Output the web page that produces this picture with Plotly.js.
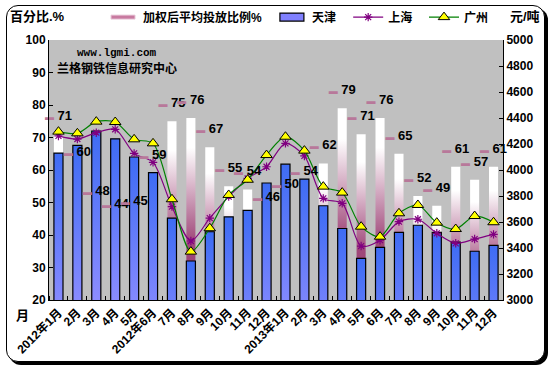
<!DOCTYPE html>
<html><head><meta charset="utf-8">
<script src="https://cdn.plot.ly/plotly-3.0.1.min.js"></script>
<style>
html,body{margin:0;padding:0;background:#fff;width:553px;height:370px;overflow:hidden}
#frame{position:absolute;left:6px;top:5px;width:537px;height:355px;border:1px solid #000;border-radius:12px;box-shadow:3px 3px 0 0 #000;background:#fff}
#chart{position:absolute;left:0;top:0;width:553px;height:370px}
</style></head><body>
<div id="frame"></div>
<div id="chart"></div>
<script>
const months = ['2012年1月','2月','3月','4月','5月','2012年6月','7月','8月','9月','10月','11月','12月',
                '2013年1月','2月','3月','4月','5月','6月','7月','8月','9月','10月','11月','12月'];
const weightedPct = [71, 60, 48, 44, 45, 59, 75, 76, 67, 55, 54, 46, 50, 54, 62, 79, 71, 76, 65, 52, 49, 61, 57, 61];
const tianjin   = [4130, 4190, 4300, 4240, 4100, 3980, 3630, 3300, 3525, 3640, 3690, 3900, 4045, 3930, 3725, 3550, 3320, 3405, 3520, 3575, 3520, 3445, 3375, 3420];
const shanghai  = [4262, 4238, 4287, 4313, 4128, 4059, 3718, 3454, 3630, 3795, 3935, 4025, 4205, 4108, 3782, 3744, 3415, 3460, 3603, 3621, 3513, 3436, 3469, 3505];
const guangzhou = [4295, 4282, 4372, 4369, 4236, 4205, 3775, 3372, 3552, 3808, 3925, 4115, 4256, 4149, 3872, 3826, 3564, 3487, 3667, 3731, 3595, 3546, 3646, 3598];
const leftTicks  = [20, 30, 40, 50, 60, 70, 80, 90, 100];
const rightTicks = [3000, 3200, 3400, 3600, 3800, 4000, 4200, 4400, 4600, 4800, 5000];
const seriesNames = ['加权后平均投放比例%', '天津', '上海', '广州'];

const idx = months.map((_, i) => i);
const FONT = 'Liberation Sans, "Noto Sans CJK SC", sans-serif';
const bold = (size) => ({family: FONT, size: size, weight: 'bold', color: '#000'});
const labelText = weightedPct.map(v => '<span style="color:#b8789a;font-size:9px">▬</span> ' + v);

const data = [
  {type: 'bar', x: idx, y: weightedPct, yaxis: 'y', name: seriesNames[0], legend: 'legend',
   marker: {color: '#c890ac', line: {width: 0}}, hoverinfo: 'skip'},
  {type: 'bar', x: idx, y: tianjin, yaxis: 'y2', name: seriesNames[1], legend: 'legend2',
   marker: {color: '#7080f0', line: {color: '#000', width: 1.2}}, hoverinfo: 'skip'},
  {type: 'scatter', mode: 'lines+markers', x: idx, y: shanghai, yaxis: 'y2', name: seriesNames[2], legend: 'legend3',
   line: {color: '#800080', width: 1.2, shape: 'spline', smoothing: 0.8},
   marker: {symbol: 'asterisk-open', size: 7, color: '#800080', line: {color: '#800080', width: 1.2}}, hoverinfo: 'skip'},
  {type: 'scatter', mode: 'lines+markers', x: idx, y: guangzhou, yaxis: 'y2', name: seriesNames[3], legend: 'legend4',
   line: {color: '#008000', width: 1.2, shape: 'spline', smoothing: 0.8},
   marker: {symbol: 'triangle-up', size: 10, color: '#ffff00', line: {color: '#000', width: 1}}, hoverinfo: 'skip'},
  {type: 'scatter', mode: 'markers+text', x: idx, y: weightedPct, yaxis: 'y3', showlegend: false,
   text: labelText, textposition: 'top center', textfont: bold(13),
   marker: {size: 16, opacity: 0}, hoverinfo: 'skip', cliponaxis: false}
];

const legendBase = (x) => ({x: x, y: 1.088, xanchor: 'left', yanchor: 'middle', orientation: 'h',
  bgcolor: 'rgba(0,0,0,0)', font: bold(12), borderwidth: 0});

const layout = {
  width: 553, height: 370,
  margin: {l: 49, r: 50, t: 40, b: 70, autoexpand: false},
  paper_bgcolor: 'rgba(0,0,0,0)',
  plot_bgcolor: '#c0c0c0',
  barmode: 'overlay', bargap: 0.52,
  font: bold(12),
  xaxis: {range: [-0.5, 23.5], tickmode: 'array', tickvals: idx, ticktext: months, tickangle: -45,
    ticks: '', showline: true, linecolor: '#000', linewidth: 1, showgrid: false, zeroline: false,
    tickfont: bold(12),
    minor: {tickmode: 'linear', tick0: -0.5, dtick: 1, ticks: 'inside', ticklen: 4, tickcolor: '#000', showgrid: false}},
  yaxis: {range: [20, 100], tickmode: 'array', tickvals: leftTicks, ticks: 'inside', ticklen: 4, tickcolor: '#000',
    showline: true, linecolor: '#000', linewidth: 1, showgrid: false, zeroline: false, tickfont: bold(12)},
  yaxis2: {range: [3000, 5000], overlaying: 'y', side: 'right', tickmode: 'array', tickvals: rightTicks,
    ticks: 'inside', ticklen: 4, tickcolor: '#000', showline: true, linecolor: '#000', linewidth: 1,
    showgrid: false, zeroline: false, tickfont: bold(12)},
  yaxis3: {overlaying: 'y', matches: 'y', visible: false},
  legend: legendBase(0.119),
  legend2: legendBase(0.491),
  legend3: legendBase(0.659),
  legend4: legendBase(0.826),
  annotations: [
    {text: '百分比.%', xref: 'paper', yref: 'paper', x: -0.09, y: 1.092, xanchor: 'left', yanchor: 'middle', showarrow: false, font: bold(13)},
    {text: '元/吨', xref: 'paper', yref: 'paper', x: 1.011, y: 1.092, xanchor: 'left', yanchor: 'middle', showarrow: false, font: bold(13)},
    {text: 'www.lgmi.com', xref: 'paper', yref: 'paper', x: 0.15, y: 0.95, xanchor: 'center', yanchor: 'middle', showarrow: false,
     font: {family: 'Liberation Mono, monospace', size: 11, weight: 'bold', color: '#000'}},
    {text: '兰格钢铁信息研究中心', xref: 'paper', yref: 'paper', x: 0.013, y: 0.892, xanchor: 'left', yanchor: 'middle', showarrow: false, font: bold(12)},
    {text: '月', xref: 'paper', yref: 'paper', x: -0.059, y: -0.058, xanchor: 'center', yanchor: 'middle', showarrow: false, font: bold(13)}
  ]
};

function setIf(p, d, fill, stroke) {
  if (p.getAttribute('d') !== d) p.setAttribute('d', d);
  if (fill && p.style.fill !== fill) p.style.fill = fill;
  if (stroke && p.style.stroke !== stroke) { p.style.stroke = stroke; p.style.strokeWidth = '1px'; }
}

function decorate(gd) {
  const ns = 'http://www.w3.org/2000/svg';
  const svg = gd.querySelector('.main-svg');
  if (!svg) return;
  let defs = svg.querySelector('defs');
  if (!defs) { defs = document.createElementNS(ns, 'defs'); svg.insertBefore(defs, svg.firstChild); }
  function grad(id, stops) {
    if (document.getElementById(id)) return;
    const g = document.createElementNS(ns, 'linearGradient');
    g.setAttribute('id', id);
    g.setAttribute('x1', '0'); g.setAttribute('y1', '0');
    g.setAttribute('x2', '0'); g.setAttribute('y2', '1');
    stops.forEach(([o, c]) => {
      const s = document.createElementNS(ns, 'stop');
      s.setAttribute('offset', o); s.setAttribute('stop-color', c); g.appendChild(s);
    });
    defs.appendChild(g);
  }
  grad('gW', [[0, '#ffffff'], [0.12, '#ffffff'], [0.5, '#a0487a'], [1, '#8c3466']]);
  grad('gB', [[0, '#3e6cf4'], [0.3, '#8c8cff'], [0.75, '#8a8cfa'], [1, '#4470f4']]);
  const bars = gd.querySelectorAll('.barlayer .trace.bars');
  if (bars[0]) bars[0].querySelectorAll('path').forEach(p => { if (p.style.fill.indexOf('gW') < 0) p.style.fill = 'url(#gW)'; });
  if (bars[1]) bars[1].querySelectorAll('path').forEach(p => { if (p.style.fill.indexOf('gB') < 0) p.style.fill = 'url(#gB)'; });
  gd.querySelectorAll('g.traces').forEach(tr => {
    const txt = tr.textContent || '';
    const isTj = txt.indexOf('天津') >= 0;
    const isW = txt.indexOf('加权') >= 0;
    if (!isTj && !isW) return;
    tr.querySelectorAll('path').forEach(p => {
      if (isTj) setIf(p, 'M12,4H-12V-4H12Z', 'rgb(128, 128, 255)', 'rgb(0, 0, 0)');
      else setIf(p, 'M12,2H-12V-2H12Z', 'rgb(200, 122, 160)', 'rgb(232, 200, 216)');
    });
  });
}

Plotly.newPlot('chart', data, layout, {staticPlot: true, displayModeBar: false}).then(gd => {
  decorate(gd);
  const obs = new MutationObserver(() => decorate(gd));
  obs.observe(gd, {childList: true, subtree: true, attributes: true, attributeFilter: ['d', 'transform']});
  setTimeout(() => decorate(gd), 30);
  setTimeout(() => decorate(gd), 200);
});
</script>
</body></html>
